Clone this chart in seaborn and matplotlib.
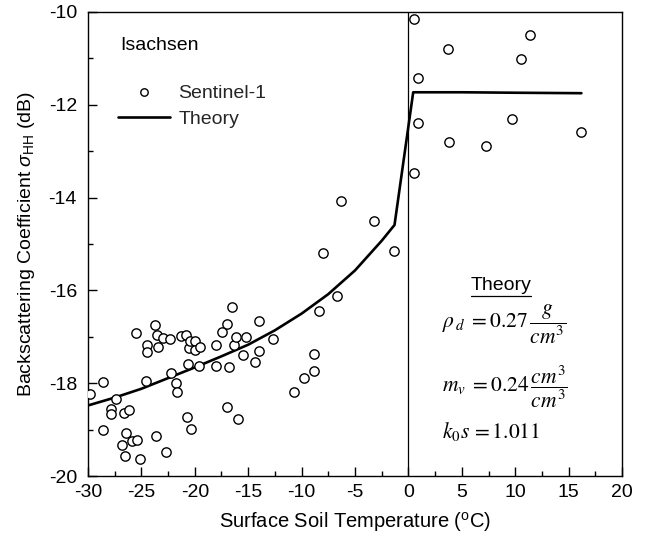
import numpy as np
import pandas as pd
import matplotlib
matplotlib.use("Agg")
import matplotlib.pyplot as plt
import seaborn as sns

# Sentinel-1 observations: temperature (degC) and backscatter (dB)
s1_temp = [-29.81, -28.63, -28.60, -27.85, -27.80, -27.40, -26.60, -26.13, -26.40, -26.80,
           -26.50, -25.90, -25.40, -25.16, -25.50, -24.60, -24.45, -24.50, -23.63, -23.70,
           -23.50, -23.48, -22.95, -22.70, -22.30, -22.20, -21.80, -21.67, -21.26, -20.80,
           -20.67, -20.73, -20.36, -20.54, -20.45, -19.98, -20.00, -19.50, -19.57, -18.00,
           -18.00, -17.45, -16.98, -16.80, -16.96, -16.50, -16.36, -16.17, -15.93, -15.50,
           -15.20, -14.33, -13.96, -13.96, -12.65, -10.74, -9.78, -8.87, -8.84, -8.37,
           -7.97, -6.66, -6.31, -3.19, -1.32, 0.50, 0.93, 0.55, 3.67, 11.39,
           10.54, 0.93, 3.80, 7.30, 9.70, 16.13]
s1_sigma = [-18.23, -17.98, -19.00, -18.56, -18.67, -18.35, -18.65, -18.57, -19.08, -19.33,
            -19.56, -19.24, -19.23, -19.64, -16.92, -17.95, -17.18, -17.33, -19.13, -16.75,
            -16.97, -17.22, -17.03, -19.49, -17.04, -17.77, -18.00, -18.18, -16.99, -16.97,
            -17.58, -18.72, -18.99, -17.25, -17.10, -17.10, -17.29, -17.22, -17.63, -17.18,
            -17.63, -16.90, -16.73, -17.65, -18.51, -16.35, -17.18, -17.00, -18.78, -17.40,
            -17.01, -17.54, -16.65, -17.31, -17.04, -18.18, -17.88, -17.38, -17.74, -16.45,
            -15.20, -16.11, -14.07, -14.50, -15.16, -13.48, -12.39, -10.16, -10.79, -10.49,
            -11.02, -11.43, -12.80, -12.88, -12.30, -12.58]

# Theory curve
th_temp = [-30.0, -27.5, -25.0, -22.5, -20.0, -17.5, -15.0, -12.5, -10.0, -7.5,
           -5.0, -2.5, -1.3, 0.45, 5.0, 10.0, 16.2]
th_sigma = [-18.48, -18.31, -18.12, -17.89, -17.66, -17.42, -17.17, -16.86, -16.50, -16.08,
            -15.57, -14.93, -14.59, -11.73, -11.73, -11.74, -11.75]

x_ticks = [-30, -25, -20, -15, -10, -5, 0, 5, 10, 15, 20]
y_ticks = [-20, -18, -16, -14, -12, -10]

sns.set_theme(style="ticks")
plt.rcParams['font.family'] = ['Liberation Sans', 'DejaVu Sans']
plt.rcParams['mathtext.fontset'] = 'custom'
plt.rcParams['mathtext.rm'] = 'Liberation Sans'
plt.rcParams['mathtext.it'] = 'Liberation Sans:italic'
plt.rcParams['axes.unicode_minus'] = False

fig = plt.figure(figsize=(6.47, 5.46), dpi=100)
ax = fig.add_axes([88/647, 1-476/546, (622-88)/647, (476-12)/546])

obs = pd.DataFrame({"T": s1_temp, "sigma": s1_sigma})
theo = pd.DataFrame({"T": th_temp, "sigma": th_sigma})

ax.axvline(0, color='black', lw=0.9, zorder=1)
sns.lineplot(data=theo, x="T", y="sigma", ax=ax, color='black', lw=1.9,
             sort=False, estimator=None, label="Theory", zorder=2)
sns.scatterplot(data=obs, x="T", y="sigma", ax=ax, marker='o', s=45,
                facecolor='white', edgecolor='black', linewidth=1.0,
                label="Sentinel-1", zorder=3)

ax.set_xlim(-30, 20)
ax.set_ylim(-20, -10)
ax.set_xticks(x_ticks)
ax.set_yticks(y_ticks)
ax.set_xticks(np.arange(-27.5, 20, 5), minor=True)
ax.set_yticks(np.arange(-19, -10, 2), minor=True)
ax.tick_params(which='both', direction='in', top=False, right=False, color='black',
               labelsize=14, labelcolor='black')
ax.tick_params(which='major', length=6.5, width=1.0)
ax.tick_params(which='minor', length=3.5, width=1.0)
ax.tick_params(axis='y', pad=8)
ax.tick_params(axis='x', pad=6)
for sp in ax.spines.values():
    sp.set_visible(True)
    sp.set_color('black')
    sp.set_linewidth(1.0)

ax.set_xlabel(r"Surface Soil Temperature ($^{\mathrm{o}}$C)", fontsize=14.5, color='black', labelpad=6)
ax.set_ylabel(r"Backscattering Coefficient $\sigma_{\mathrm{HH}}$ (dB)", fontsize=14, color='black', labelpad=8)

handles, labels = ax.get_legend_handles_labels()
order = [labels.index("Sentinel-1"), labels.index("Theory")]
leg = ax.legend([handles[i] for i in order], [labels[i] for i in order],
                loc='upper left', bbox_to_anchor=(0.056, 0.845), frameon=False,
                fontsize=14, borderpad=0, borderaxespad=0, handlelength=2.7,
                handletextpad=0.4, labelspacing=0.45, markerscale=0.8)

ax.text(0.06, 0.927, "Isachsen", transform=ax.transAxes, fontsize=14,
        ha='left', va='center', color='black')

ax.text(0.773, 0.41, "Theory", transform=ax.transAxes, fontsize=14,
        ha='center', va='center', color='black')
ax.plot([0.717, 0.83], [0.388, 0.388], transform=ax.transAxes, color='black', lw=0.9)
ax.text(0.663, 0.328, r"$\rho_{\,d}\;=0.27\,\dfrac{g}{cm^{3}}$", transform=ax.transAxes,
        fontsize=15.5, ha='left', va='center', math_fontfamily='stix', color='black')
ax.text(0.663, 0.192, r"$m_{v}\;=0.24\,\dfrac{cm^{3}}{cm^{3}}$", transform=ax.transAxes,
        fontsize=15.5, ha='left', va='center', math_fontfamily='stix', color='black')
ax.text(0.663, 0.096, r"$k_{0}s\,=1.011$", transform=ax.transAxes,
        fontsize=15.5, ha='left', va='center', math_fontfamily='stix', color='black')

fig.savefig("out.png", dpi=100)
